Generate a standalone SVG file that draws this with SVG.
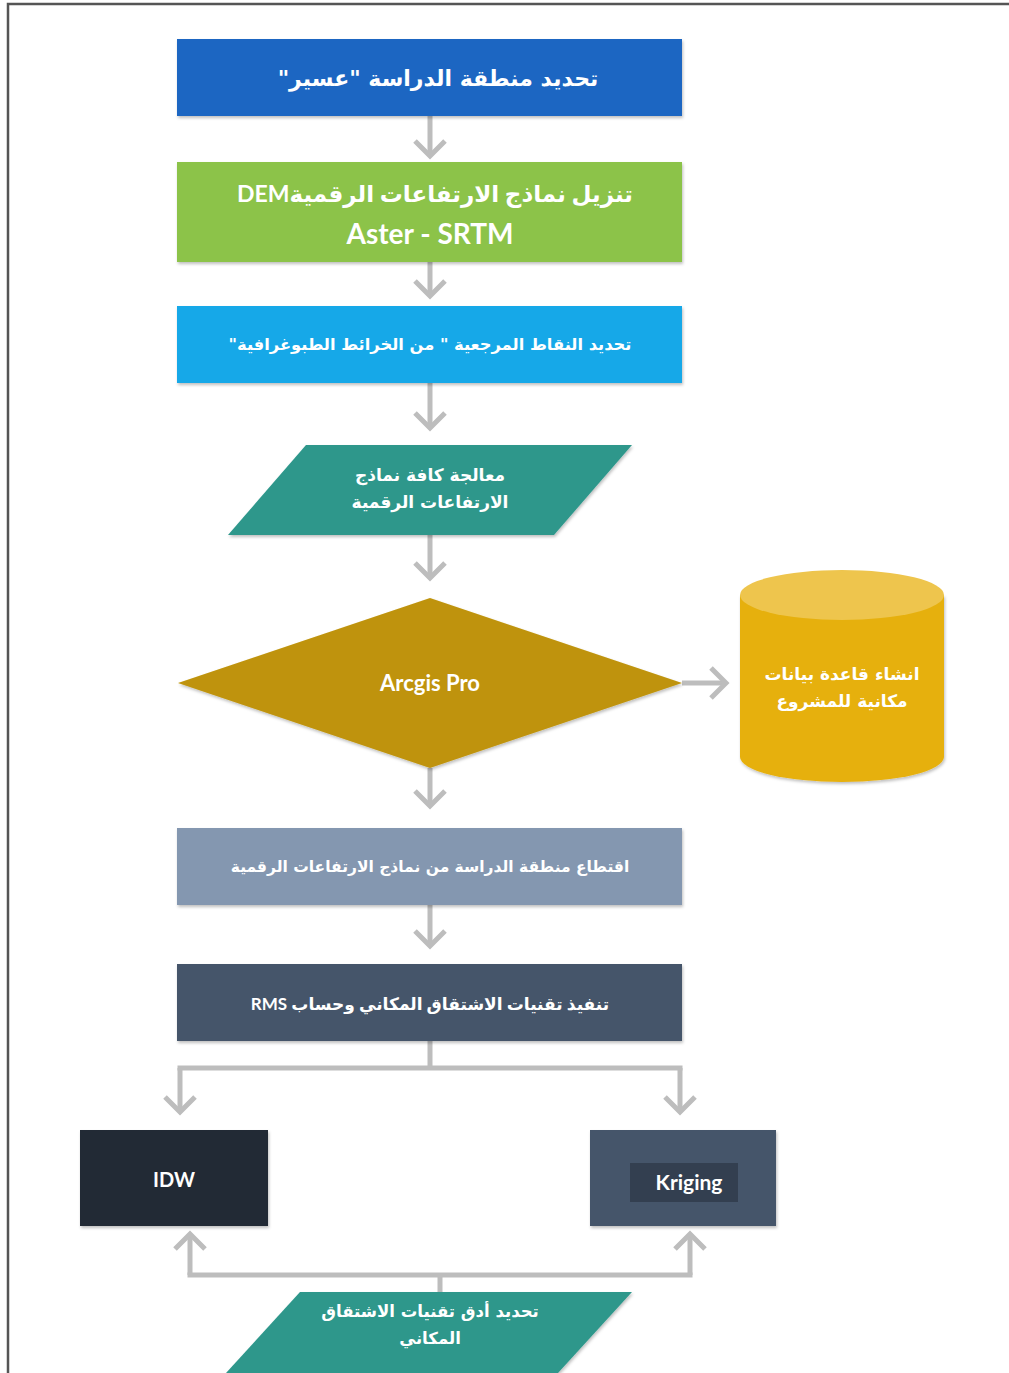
<svg xmlns="http://www.w3.org/2000/svg" width="1009" height="1373" viewBox="0 0 1009 1373">
<defs>
<style>
.t{fill:#fff;font-family:"DejaVu Sans",sans-serif;font-weight:bold;text-anchor:middle;direction:rtl;unicode-bidi:embed}
.l{font-family:Lato,"DejaVu Sans",sans-serif}
.c{fill:none;stroke:#bdbdbd;stroke-width:5}
</style>
<marker id="ah" markerUnits="userSpaceOnUse" viewBox="-20 -20 24 40" markerWidth="24" markerHeight="40" refX="0" refY="0" orient="auto">
<path d="M-15,-15 L0,0 L-15,15" fill="none" stroke="#bdbdbd" stroke-width="5"/>
</marker>
<filter id="sh" x="-5%" y="-5%" width="110%" height="115%">
<feDropShadow dx="1" dy="2" stdDeviation="1.5" flood-color="#000" flood-opacity="0.25"/>
</filter>
</defs>
<rect width="1009" height="1373" fill="#fff"/>
<path d="M8,1373 V4 H1009" fill="none" stroke="#555" stroke-width="2.5"/>

<g id="connectors">
<path class="c" d="M430,116 V156" marker-end="url(#ah)"/>
<path class="c" d="M430,262 V296" marker-end="url(#ah)"/>
<path class="c" d="M430,383 V428" marker-end="url(#ah)"/>
<path class="c" d="M430,535 V578" marker-end="url(#ah)"/>
<path class="c" d="M682,683 H726" marker-end="url(#ah)"/>
<path class="c" d="M430,768 V806" marker-end="url(#ah)"/>
<path class="c" d="M430,905 V946" marker-end="url(#ah)"/>
<path class="c" d="M430,1041 V1068 M177.5,1068 H682.5"/>
<path class="c" d="M180,1068 V1112" marker-end="url(#ah)"/>
<path class="c" d="M680,1068 V1112" marker-end="url(#ah)"/>
<path class="c" d="M187.5,1275 H692.5 M440,1275 V1292"/>
<path class="c" d="M190,1275 V1234" marker-end="url(#ah)"/>
<path class="c" d="M690,1275 V1234" marker-end="url(#ah)"/>
</g>

<g id="n1">
<rect x="177" y="39" width="505" height="77" fill="#1a66c2" filter="url(#sh)"/>
<text class="t" x="438" y="86" font-size="22">تحديد منطقة الدراسة "عسير"</text>
</g>
<g id="n2">
<rect x="177" y="162" width="505" height="100" fill="#8cc34a" filter="url(#sh)"/>
<text class="t l" x="435" y="202" font-size="23">تنزيل نماذج الارتفاعات الرقميةDEM</text>
<text class="t l" x="430" y="244" font-size="28" style="direction:ltr">Aster - SRTM</text>
</g>
<g id="n3">
<rect x="177" y="306" width="505" height="77" fill="#12a8e8" filter="url(#sh)"/>
<text class="t" x="430" y="350" font-size="16.3">تحديد النقاط المرجعية " من الخرائط الطبوغرافية"</text>
</g>
<g id="n4">
<polygon points="306,445 632,445 554,535 228,535" fill="#2e978b" filter="url(#sh)"/>
<text class="t" x="430" y="481" font-size="17">معالجة كافة نماذج</text>
<text class="t" x="430" y="508" font-size="17">الارتفاعات الرقمية</text>
</g>
<g id="n5">
<polygon points="430,598 682,683 430,768 178,683" fill="#bf930a" filter="url(#sh)"/>
<text class="t l" x="430" y="691" font-size="22" style="direction:ltr">Arcgis Pro</text>
</g>
<g id="n6">
<path d="M740,595 V757 A102,25 0 0 0 944,757 V595 Z" fill="#e6b00f" filter="url(#sh)"/>
<ellipse cx="842" cy="595" rx="102" ry="25" fill="#eec54d"/>
<text class="t" x="842" y="680" font-size="17">انشاء قاعدة بيانات</text>
<text class="t" x="842" y="707" font-size="17">مكانية للمشروع</text>
</g>
<g id="n7">
<rect x="177" y="828" width="505" height="77" fill="#8497b0" filter="url(#sh)"/>
<text class="t" x="430" y="872" font-size="15.5">اقتطاع منطقة الدراسة من نماذج الارتفاعات الرقمية</text>
</g>
<g id="n8">
<rect x="177" y="964" width="505" height="77" fill="#44546a" filter="url(#sh)"/>
<text class="t l" x="430" y="1010" font-size="17">تنفيذ تقنيات الاشتقاق المكاني وحساب RMS</text>
</g>
<g id="n9">
<rect x="80" y="1130" width="188" height="96" fill="#222a35" filter="url(#sh)"/>
<text class="t l" x="174" y="1187" font-size="20" style="direction:ltr">IDW</text>
</g>
<g id="n10">
<rect x="590" y="1130" width="186" height="96" fill="#44546a" filter="url(#sh)"/>
<rect x="630" y="1163" width="108" height="39" fill="#333f50"/>
<text class="t l" x="689" y="1190" font-size="21" style="direction:ltr">Kriging</text>
</g>
<g id="n11">
<polygon points="300,1292 632,1292 558,1373 226,1373" fill="#2e978b" filter="url(#sh)"/>
<text class="t" x="430" y="1317" font-size="16.5">تحديد أدق تقنيات الاشتقاق</text>
<text class="t" x="430" y="1344" font-size="16.5">المكاني</text>
</g>
</svg>
